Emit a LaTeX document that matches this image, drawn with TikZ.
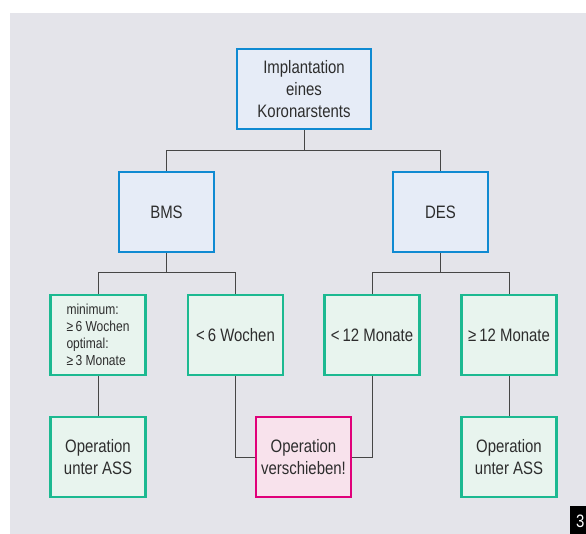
\documentclass[tikz,border=0pt]{standalone}
\usepackage{fontspec}
\setmainfont{Liberation Sans}[FakeStretch=0.83]
\usepackage{tikz}
\usetikzlibrary{positioning}
\definecolor{panelgrey}{RGB}{228,228,234}
\definecolor{stentblue}{RGB}{15,138,210}
\definecolor{stentbluefill}{RGB}{230,236,247}
\definecolor{opgreen}{RGB}{28,185,145}
\definecolor{opgreenfill}{RGB}{232,244,238}
\definecolor{warnpink}{RGB}{224,0,122}
\definecolor{warnpinkfill}{RGB}{248,226,236}
\definecolor{txtgrey}{RGB}{45,45,45}
\definecolor{linegrey}{RGB}{70,70,70}

\begin{document}
\begin{tikzpicture}[x=1pt,y=-1pt,font=\fontsize{18}{22}\selectfont,
  stentbox/.style={draw=stentblue,fill=stentbluefill,line width=2.8pt,text=txtgrey,
    minimum width=95pt,minimum height=80pt,align=center,inner sep=2pt},
  opbox/.style={stentbox,draw=opgreen,fill=opgreenfill},
  warnbox/.style={stentbox,draw=warnpink,fill=warnpinkfill},
  link/.style={draw=linegrey,line width=0.9pt}]
  \useasboundingbox (0,0) rectangle (586,534);
  \fill[panelgrey] (10,13) rectangle (586,534);
  % decision tree
  \node[stentbox,minimum width=134pt] (stent) at (304,89) {Implantation\\eines\\Koronarstents};
  \node[stentbox] (bms) at (166.5,212) {BMS};
  \node[stentbox] (des) at (440.5,212) {DES};
  \node[opbox,align=left,font=\fontsize{14.5}{17}\selectfont] (mindauer) at (98,335)
    {minimum:\\≥\,6 Wochen\\optimal:\\≥\,3 Monate};
  \node[opbox] (kurzbms) at (235.5,335) {<\,6 Wochen};
  \node[opbox] (kurzdes) at (372,335) {<\,12 Monate};
  \node[opbox] (langdes) at (509,335) {≥\,12 Monate};
  \node[opbox] (assbms) at (98,457) {Operation\\unter ASS};
  \node[warnbox] (schieben) at (303.5,457) {Operation\\verschieben!};
  \node[opbox] (assdes) at (509,457) {Operation\\unter ASS};
  % connectors
  \draw[link] (stent.south) -- ++(0,20) -| (bms.north);
  \draw[link] (stent.south) -- ++(0,20) -| (des.north);
  \draw[link] (bms.south) -- ++(0,19) -| (mindauer.north);
  \draw[link] (bms.south) -- ++(0,19) -| (kurzbms.north);
  \draw[link] (des.south) -- ++(0,19) -| (kurzdes.north);
  \draw[link] (des.south) -- ++(0,19) -| (langdes.north);
  \draw[link] (mindauer) -- (assbms);
  \draw[link] (langdes) -- (assdes);
  \draw[link] (kurzbms.south) |- (schieben.west);
  \draw[link] (kurzdes.south) |- (schieben.east);
  \node[fill=black,text=white,anchor=north west,minimum width=20pt,minimum height=30pt,
    inner sep=0pt,text depth=0pt] (seite) at (570,506) {3};
\end{tikzpicture}
\end{document}
